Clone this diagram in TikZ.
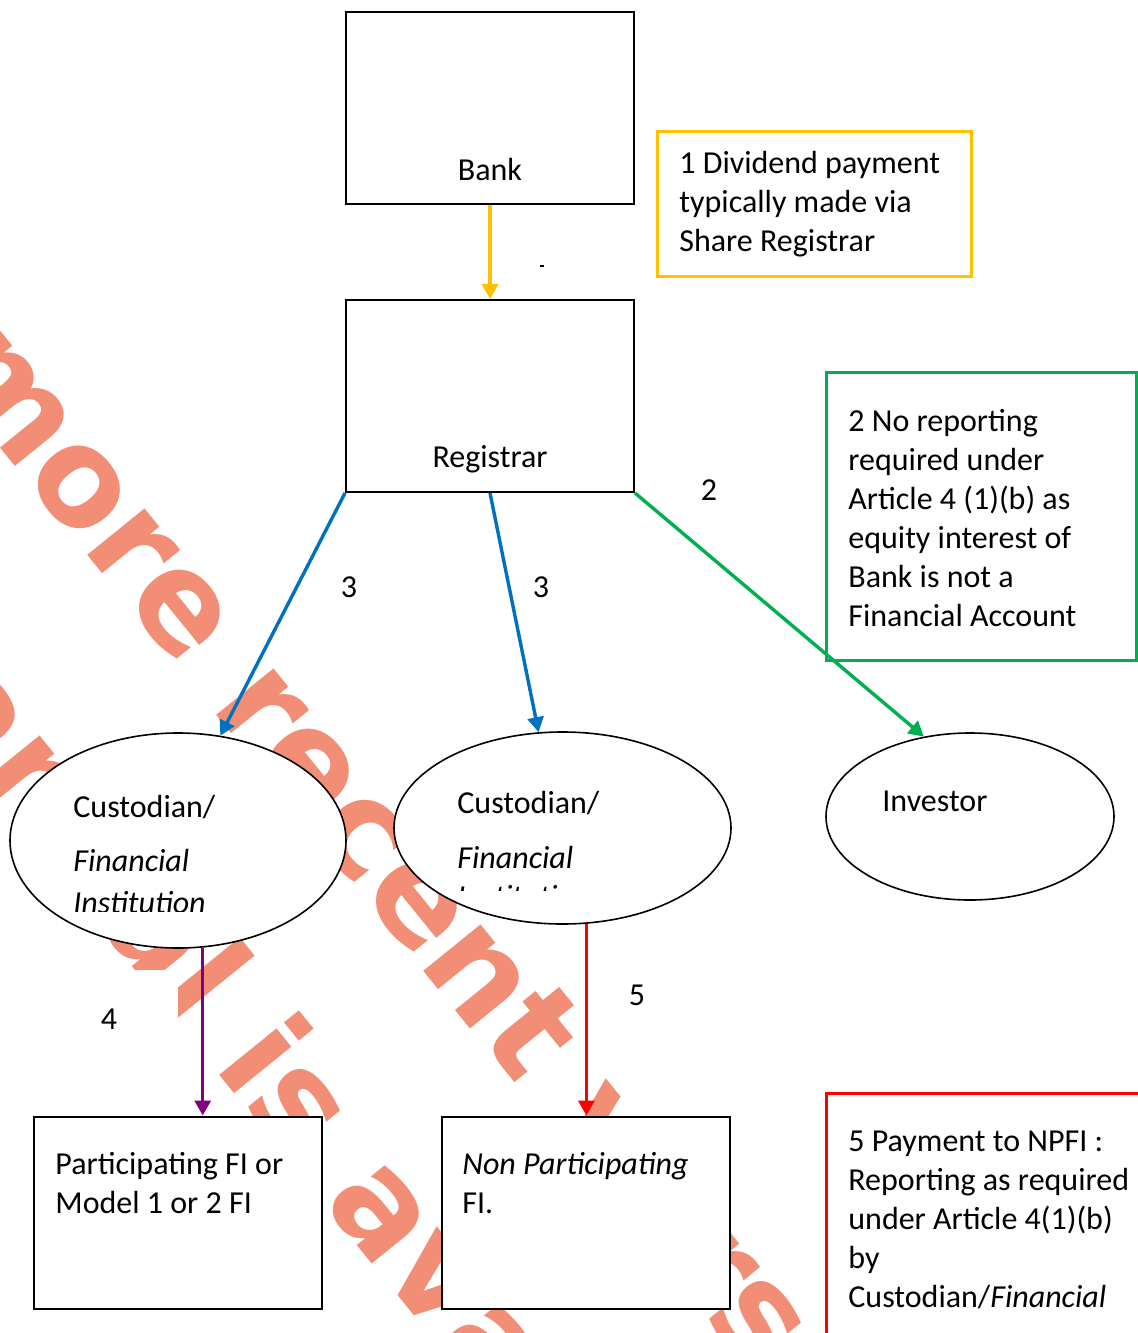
\documentclass[tikz,border=0pt]{standalone}
\usepackage{fontspec}
\setmainfont{Carlito}
\newfontfamily\wmfont{DejaVu Sans}
\usetikzlibrary{arrows.meta,shapes.geometric}
\definecolor{cyel}{HTML}{FFC000}
\definecolor{cgrn}{HTML}{00B050}
\definecolor{cblu}{HTML}{0070C0}
\definecolor{cred}{HTML}{FF0000}
\definecolor{cpur}{HTML}{800080}
\definecolor{cwm}{RGB}{242,142,118}
\newcommand\vlines[1]{\vtop{\halign{##\hfil\cr#1\crcr}}}
\begin{document}
\begin{tikzpicture}[x=0.5pt,y=-0.5pt,font={\fontsize{16}{19.5}\selectfont},
  box/.style={draw=black, line width=1pt, fill=white, minimum width=144pt, minimum height=96pt, inner sep=0pt},
  note/.style={line width=1.5pt, fill=white, inner sep=0pt},
  oval/.style={ellipse, draw=black, line width=0.8pt, fill=white, inner sep=0pt},
  txt/.style={anchor=base west, inner sep=0pt},
  lbl/.style={anchor=base, inner sep=0pt},
  arr/.style={line width=1.7pt, -{Triangle[length=7.5pt,width=8pt]}},
  wm/.style={text=cwm, inner sep=0pt, anchor=base west, rotate=-51, font={\wmfont\bfseries\fontsize{67.5}{80}\selectfont}}]
\useasboundingbox (0,0) rectangle (1138,1333);
\fill[white] (0,0) rectangle (1138,1333);
% watermark
\node[wm] (wm1) at (-67,365) {more recent version};
\node[wm] (wm2) at (-171,593) {manual is available};
\fill[white] (0,970) rectangle (178,1117);
% boxes
\node[box] (bank) at (490,108) {};
\node[lbl] (bankt) at (490,180) {Bank};
\node[box] (reg) at (490,396) {};
\node[lbl] (regt) at (490,467) {Registrar};
\node[box] (pfi) at (178,1212.5) {};
\node[box] (npfi) at (586,1212.5) {};
% notes
\node[note, draw=cyel, minimum width=157pt, minimum height=72.5pt] (ynote) at (814,203.5) {};
\node[note, draw=cgrn, minimum width=155pt, minimum height=144pt] (gnote) at (981,516) {};
\node[note, draw=cred, minimum width=162pt, minimum height=133.5pt] (rnote) at (988,1226.5) {};
% ellipses
\node[oval, minimum width=168pt, minimum height=107.5pt] (e1) at (178,840.5) {};
\node[oval, minimum width=168.5pt, minimum height=96pt] (e2) at (562.5,828) {};
\node[oval, minimum width=144pt, minimum height=83.5pt] (e3) at (970,816.5) {};
% texts
\node[txt] (yt) at (679,173) {\vlines{1 Dividend payment\cr typically made via\cr Share Registrar}};
\node[txt] (gt) at (848,431) {\vlines{2 No reporting\cr required under\cr Article 4 (1)(b) as\cr equity interest of\cr Bank is not a\cr Financial Account}};
\node[txt] (rt) at (848,1151) {\vlines{5 Payment to NPFI :\cr Reporting as required\cr under Article 4(1)(b)\cr by\cr Custodian/\textit{Financial}}};
\node[txt] (pt) at (55,1174) {\vlines{Participating FI or\cr Model 1 or 2 FI}};
\node[txt] (npt) at (462,1174) {\vlines{\textit{Non Participating}\cr FI.}};
\node[txt] (c1a) at (73,817) {Custodian/};
\node[txt] (c1b) at (73,871) {\textit{Financial}};
\begin{scope}
\clip (60,880) rectangle (340,911);
\node[txt] (c1c) at (73,913) {\textit{Institution}};
\end{scope}
\node[txt] (c2a) at (457,813) {Custodian/};
\node[txt] (c2b) at (457,868) {\textit{Financial}};
\begin{scope}
\clip (440,876) rectangle (720,890);
\node[txt] (c2c) at (457,907) {\textit{Institution}};
\end{scope}
\node[txt] (invt) at (882,811) {Investor};
% connectors
\draw[arr, cyel] (bank.south) -- (reg.north);
\draw[arr, cgrn] (reg.south east) -- (e3.120);
\draw[arr, cblu] (reg.south west) -- (e1.68);
\draw[arr, cblu] (reg.south) -- (e2.104);
\draw[arr, cpur] (e1.-77) -- (e1.-77 |- pfi.north);
\draw[arr, cred] (e2.-76) -- (e2.-76 |- npfi.north);
% labels
\node[lbl] (l2) at (709,500) {2};
\node[lbl] (l3a) at (349,597) {3};
\node[lbl] (l3b) at (541,597) {3};
\node[lbl] (l4) at (109,1029) {4};
\node[lbl] (l5) at (637,1005) {5};
\fill (539.5,265) rectangle (544,267);
\end{tikzpicture}
\end{document}
